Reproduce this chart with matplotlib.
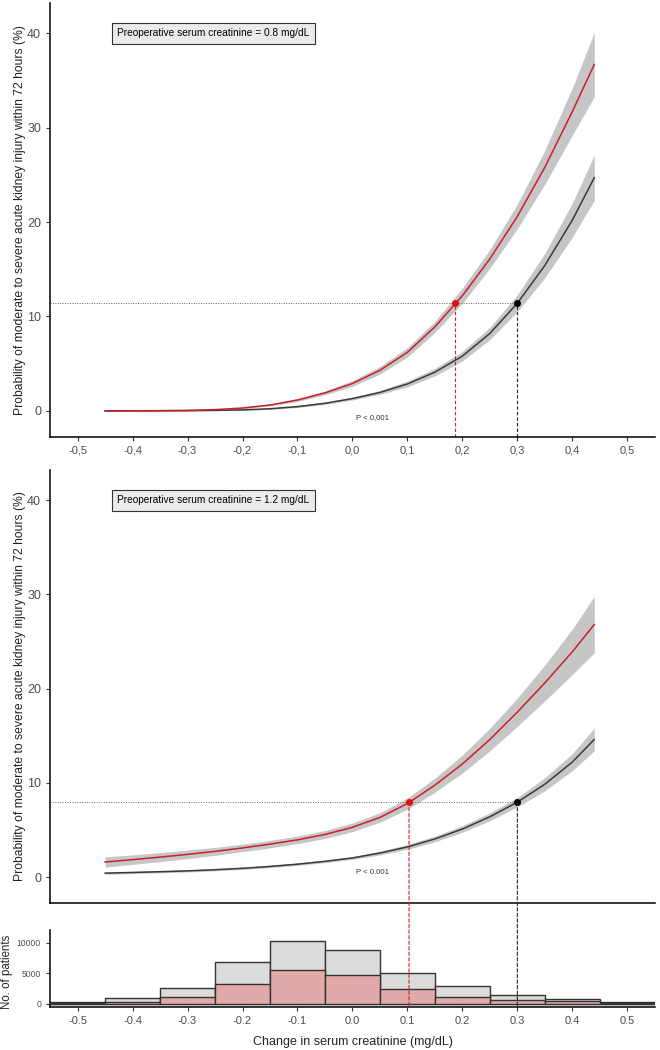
import numpy as np
import matplotlib
matplotlib.use("Agg")
import matplotlib.pyplot as plt
from matplotlib.patches import ConnectionPatch

plt.rcParams['font.family'] = ['Liberation Sans', 'DejaVu Sans']

# change in serum creatinine grid for the predicted curves
x_pred = [-0.45, -0.40, -0.35, -0.30, -0.25, -0.20, -0.15, -0.10, -0.05, 0.00,
          0.05, 0.10, 0.15, 0.20, 0.25, 0.30, 0.35, 0.40, 0.44]

# preoperative creatinine 0.8 mg/dL
red_08 = [0.0, 0.01, 0.02, 0.05, 0.13, 0.3, 0.62, 1.15, 1.9, 2.9,
          4.3, 6.2, 8.9, 12.2, 16.1, 20.6, 25.8, 31.7, 36.7]
red_08_hw = [0.02, 0.02, 0.03, 0.04, 0.05, 0.08, 0.1, 0.15, 0.2, 0.3,
             0.4, 0.5, 0.6, 0.8, 1.0, 1.3, 1.8, 2.5, 3.4]
blk_08 = [0.0, 0.0, 0.01, 0.02, 0.05, 0.1, 0.22, 0.45, 0.8, 1.3,
          1.95, 2.85, 4.1, 5.8, 8.2, 11.4, 15.4, 20.2, 24.7]
blk_08_hw = [0.02, 0.02, 0.02, 0.03, 0.03, 0.05, 0.07, 0.1, 0.12, 0.15,
             0.2, 0.3, 0.4, 0.5, 0.65, 0.9, 1.3, 1.8, 2.4]

# preoperative creatinine 1.2 mg/dL
red_12 = [1.6, 1.85, 2.12, 2.41, 2.73, 3.09, 3.5, 3.95, 4.52, 5.28,
          6.33, 7.8, 9.75, 12.0, 14.6, 17.5, 20.6, 23.9, 26.8]
red_12_hw = [0.55, 0.5, 0.48, 0.45, 0.42, 0.4, 0.4, 0.4, 0.42, 0.45,
             0.5, 0.6, 0.75, 0.95, 1.2, 1.5, 1.9, 2.4, 3.0]
blk_12 = [0.42, 0.49, 0.57, 0.66, 0.78, 0.93, 1.13, 1.37, 1.67, 2.03,
          2.55, 3.2, 4.05, 5.1, 6.4, 7.95, 9.85, 12.2, 14.6]
blk_12_hw = [0.12, 0.12, 0.12, 0.12, 0.12, 0.12, 0.13, 0.13, 0.14, 0.15,
             0.2, 0.25, 0.3, 0.35, 0.42, 0.5, 0.7, 0.9, 1.2]

# reference points (same risk level for both groups)
ref_08 = {'red_x': 0.187, 'black_x': 0.30, 'y': 11.4}
ref_12 = {'red_x': 0.103, 'black_x': 0.30, 'y': 7.95}

# histogram of change in serum creatinine
bin_centers = [-0.5, -0.4, -0.3, -0.2, -0.1, 0.0, 0.1, 0.2, 0.3, 0.4, 0.5]
n_all = [350, 900, 2620, 6900, 10400, 8850, 5150, 2900, 1480, 870, 350]
n_red = [150, 380, 1150, 3350, 5650, 4750, 2500, 1100, 600, 420, 150]

xticks = [-0.5, -0.4, -0.3, -0.2, -0.1, 0.0, 0.1, 0.2, 0.3, 0.4, 0.5]
ylab = "Probability of moderate to severe acute kidney injury within 72 hours (%)"

RED = '#cc1f2b'
DARK = '#3a3a3a'
BAND = '#c6c6c6'
TICKCOL = '#4d4d4d'

fig = plt.figure(figsize=(6.6, 10.5), dpi=100)
ax1 = fig.add_axes([0.076, 0.584, 0.916, 0.413])
ax2 = fig.add_axes([0.076, 0.14, 0.916, 0.4124])
ax3 = fig.add_axes([0.076, 0.041, 0.916, 0.0733])


def style(ax):
    for s in ['top', 'right']:
        ax.spines[s].set_visible(False)
    for s in ['left', 'bottom']:
        ax.spines[s].set_linewidth(1.1)
        ax.spines[s].set_color('black')
    ax.tick_params(length=3, width=0.8, color='#333333', labelcolor=TICKCOL)
    ax.set_xlim(-0.55, 0.55)


def panel(ax, red, red_hw, blk, blk_hw, ref, box_text, p_text, comma):
    style(ax)
    xr = np.array(x_pred)
    for y, hw, col in [(blk, blk_hw, DARK), (red, red_hw, RED)]:
        y = np.array(y)
        hw = np.array(hw)
        ax.fill_between(xr, y - hw, y + hw, color=BAND, lw=0, zorder=1)
        ax.plot(xr, y, color=col, lw=1.1, zorder=3)
    ax.plot([-0.55, ref['black_x']], [ref['y'], ref['y']], ls=(0, (1, 1.5)),
            color='#666666', lw=0.7, zorder=2)
    ax.scatter([ref['red_x']], [ref['y']], s=16, color='#e01010', zorder=5)
    ax.scatter([ref['black_x']], [ref['y']], s=16, color='black', zorder=5)
    ax.set_ylim(-2.75, 43.2)
    ax.set_yticks([0, 10, 20, 30, 40])
    ax.tick_params(axis='y', labelsize=9)
    ax.set_ylabel(ylab, fontsize=8.7, color='#222222')
    ax.yaxis.set_label_coords(-0.04, 0.5)
    ax.text(-0.253, 40, box_text, fontsize=7.3, ha='center', va='center',
            bbox=dict(boxstyle='square,pad=0.55', fc='#ebebeb', ec='#333333', lw=0.8),
            zorder=6)
    ax.text(0.036, -0.7 if comma else 0.5, p_text, fontsize=5.6, ha='center',
            va='center', color='#333333')
    ax.set_xticks(xticks)
    if comma:
        ax.set_xticklabels([f"{t:.1f}".replace('.', ',') for t in xticks], fontsize=8)
    else:
        ax.tick_params(axis='x', labelbottom=False, length=0)


panel(ax1, red_08, red_08_hw, blk_08, blk_08_hw, ref_08,
      "Preoperative serum creatinine = 0.8 mg/dL", "P < 0,001", True)
panel(ax2, red_12, red_12_hw, blk_12, blk_12_hw, ref_12,
      "Preoperative serum creatinine = 1.2 mg/dL", "P < 0.001", False)

# vertical dashed guides, top panel
ax1.plot([ref_08['red_x']] * 2, [-2.75, ref_08['y']], ls=(0, (3, 2)), color=RED, lw=0.8, zorder=2)
ax1.plot([ref_08['black_x']] * 2, [-2.75, ref_08['y']], ls=(0, (3, 2)), color='#222222', lw=0.8, zorder=2)

# histogram
style(ax3)
ax3.bar(bin_centers, n_all, width=0.1, color='#dcdcdc', edgecolor='#333333', lw=1.0, zorder=2)
ax3.bar(bin_centers, n_red, width=0.1, color='#e2a9a9', edgecolor='#333333', lw=1.0, zorder=3)
ax3.set_ylim(-490, 12130)
ax3.set_yticks([0, 5000, 10000])
ax3.tick_params(axis='y', labelsize=6.2)
ax3.set_xticks(xticks)
ax3.set_xticklabels([f"{t:.1f}" for t in xticks], fontsize=8)
ax3.set_ylabel("No. of patients", fontsize=8.3, color='#222222')
ax3.yaxis.set_label_coords(-0.062, 0.45)
ax3.set_xlabel("Change in serum creatinine (mg/dL)", fontsize=9, color='#222222', labelpad=7)

# vertical dashed guides, bottom panel down through the histogram
for xv, col in [(ref_12['red_x'], RED), (ref_12['black_x'], '#222222')]:
    con = ConnectionPatch(xyA=(xv, ref_12['y']), coordsA=ax2.transData,
                          xyB=(xv, -490), coordsB=ax3.transData,
                          ls=(0, (3, 2)), color=col, lw=0.8, zorder=1)
    fig.add_artist(con)

fig.savefig("out.png", dpi=100)
